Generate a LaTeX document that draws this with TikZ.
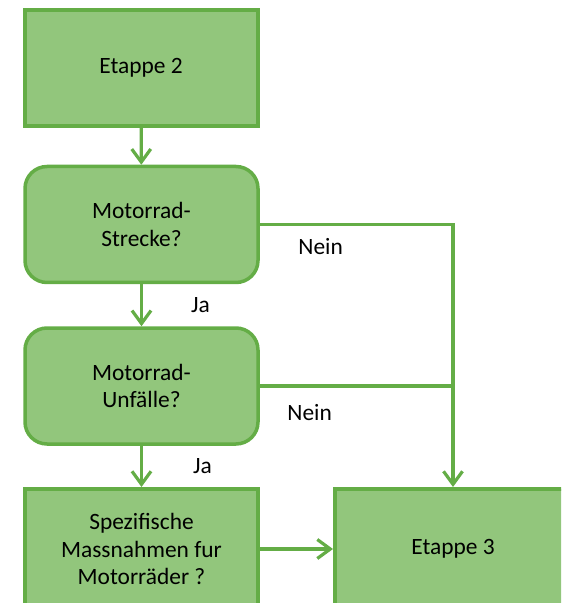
\documentclass[tikz,border=0pt]{standalone}
\usepackage{fontspec}
\setmainfont{Carlito}
\usetikzlibrary{arrows.meta}

\definecolor{boxfill}{RGB}{146,198,124}
\definecolor{boxline}{RGB}{100,173,70}

\tikzset{
  stepbox/.style={draw=boxline, fill=boxfill, line width=2pt,
    minimum width=116.5pt, minimum height=58pt, align=center,
    font=\fontsize{11.7pt}{13.8pt}\selectfont},
  askbox/.style={stepbox, line width=1.75pt, rounded corners=11pt},
  endbox/.style={stepbox, minimum height=60pt},
  flow/.style={draw=boxline, line width=1.6pt,
    -{Straight Barb[length=6.5pt, width=9.5pt]}},
  link/.style={draw=boxline, line width=1.6pt},
  answer/.style={font=\fontsize{11.7pt}{13.8pt}\selectfont, inner sep=0pt, anchor=west}
}

\begin{document}
\begin{tikzpicture}[x=0.5pt, y=-0.5pt]
\useasboundingbox (0,0) rectangle (561,603);
\clip (0,0) rectangle (561,603);
\node[stepbox] (etappe2) at (141,68) {Etappe 2};
\node[askbox] (strecke) at (141.5,224.5) {Motorrad-\\Strecke?};
\node[askbox] (unfaelle) at (141.5,386) {Motorrad-\\Unfälle?};
\node[endbox] (massnahmen) at (141.5,549) {Spezifische\\Massnahmen fur\\Motorräder ?};
\node[endbox, minimum width=118pt] (etappe3) at (453,549) {Etappe 3};

\draw[flow] (etappe2) -- (strecke);
\draw[flow] (strecke) -- node[answer, xshift=48pt/2] (ja1) {Ja} (unfaelle);
\draw[flow] (unfaelle) -- node[answer, xshift=50pt/2] (ja2) {Ja} (massnahmen);
\draw[flow] (strecke.east) -| (etappe3.north);
\draw[link] (unfaelle.east) -- (unfaelle.east -| etappe3.north);
\draw[flow] (massnahmen.east) -- (etappe3.west);

\node[answer] (nein1) at (298,247) {Nein};
\node[answer] (nein2) at (287,413) {Nein};
\end{tikzpicture}
\end{document}
